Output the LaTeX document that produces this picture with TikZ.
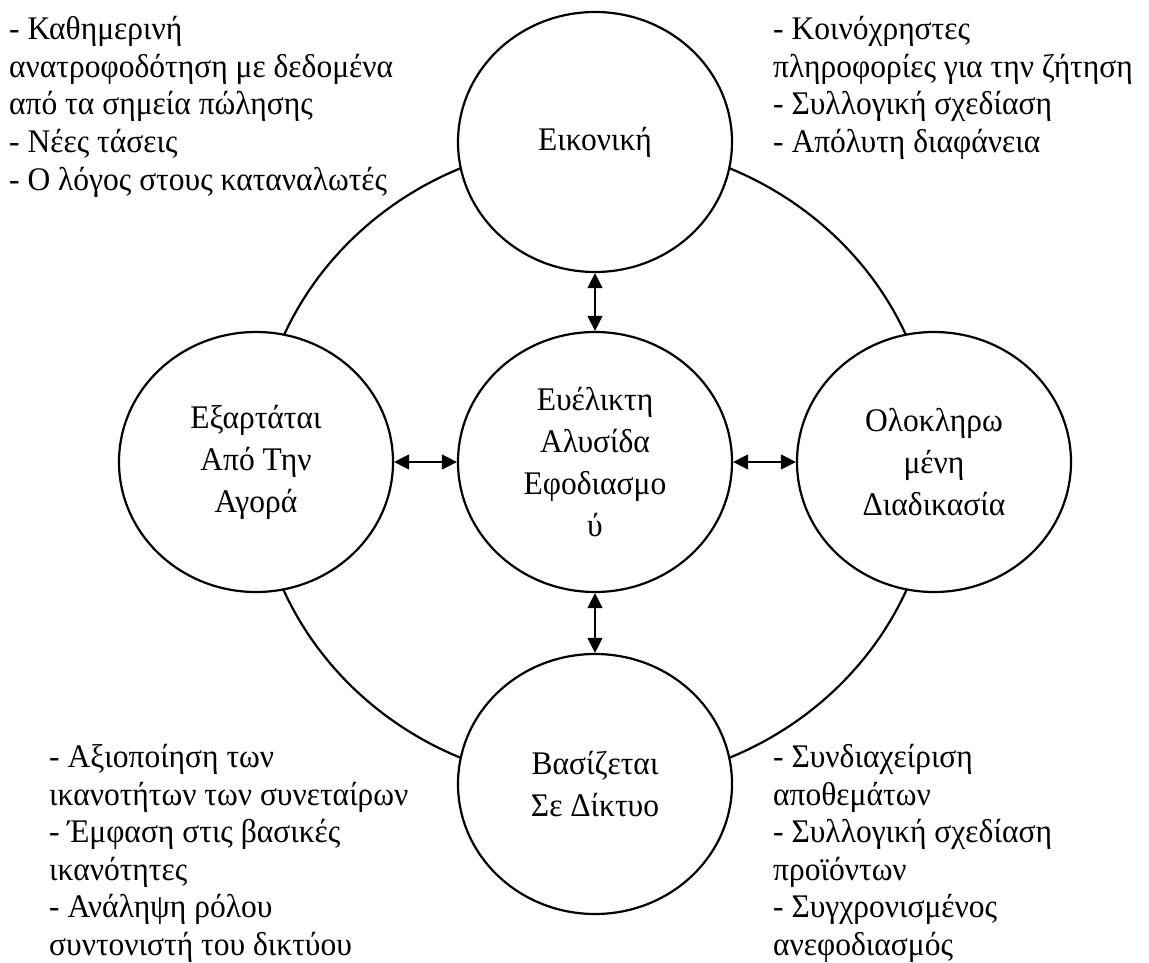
\documentclass[tikz,border=0pt]{standalone}
\usepackage{fontspec}
\setmainfont[FakeStretch=0.955]{Liberation Serif}
\usetikzlibrary{shapes.geometric,arrows.meta}
\begin{document}
\begin{tikzpicture}[x=1pt,y=-1pt,
  circ/.style={ellipse, draw, line width=2.2pt, fill=white, minimum width=274pt, minimum height=260pt, inner sep=0pt, align=center, font=\fontsize{33}{42}\selectfont},
  ringstyle/.style={ellipse, draw, line width=2.2pt, minimum width=678pt, minimum height=642pt, inner sep=0pt},
  side/.style={anchor=north west, inner sep=0pt, align=left, font=\fontsize{33}{37.6}\selectfont},
  link/.style={{Triangle[length=15pt,width=15pt]}-{Triangle[length=15pt,width=15pt]}, line width=1.2pt}
]
\useasboundingbox (0,0) rectangle (1149,963);
\node[ringstyle] (ring) at (595,463) {};
\node[circ] (top) at (595,142) {Εικονική};
\node[circ] (left) at (256,462) {Εξαρτάται\\Από Την\\Αγορά};
\node[circ] (ctr) at (595,462) {Ευέλικτη\\Αλυσίδα\\Εφοδιασμο\\ύ};
\node[circ] (right) at (934,462) {Ολοκληρω\\μένη\\Διαδικασία};
\node[circ] (bot) at (595,784) {Βασίζεται\\Σε Δίκτυο};
\draw[link] (top) -- (ctr);
\draw[link] (ctr) -- (bot);
\draw[link] (left) -- (ctr);
\draw[link] (ctr) -- (right);
\node[side] (tl) at (9,13.2) {\strut- Καθημερινή\\ανατροφοδότηση με δεδομένα\\από τα σημεία πώλησης\\- Νέες τάσεις\\- Ο λόγος στους καταναλωτές};
\node[side] (tr) at (773,13.2) {\strut- Κοινόχρηστες\\πληροφορίες για την ζήτηση\\- Συλλογική σχεδίαση\\- Απόλυτη διαφάνεια};
\node[side] (bl) at (49,741) {\strut- Αξιοποίηση των\\ικανοτήτων των συνεταίρων\\- Έμφαση στις βασικές\\ικανότητες\\- Ανάληψη ρόλου\\συντονιστή του δικτύου};
\node[side] (br) at (773,741) {\strut- Συνδιαχείριση\\αποθεμάτων\\- Συλλογική σχεδίαση\\προϊόντων\\- Συγχρονισμένος\\ανεφοδιασμός};
\end{tikzpicture}
\end{document}
